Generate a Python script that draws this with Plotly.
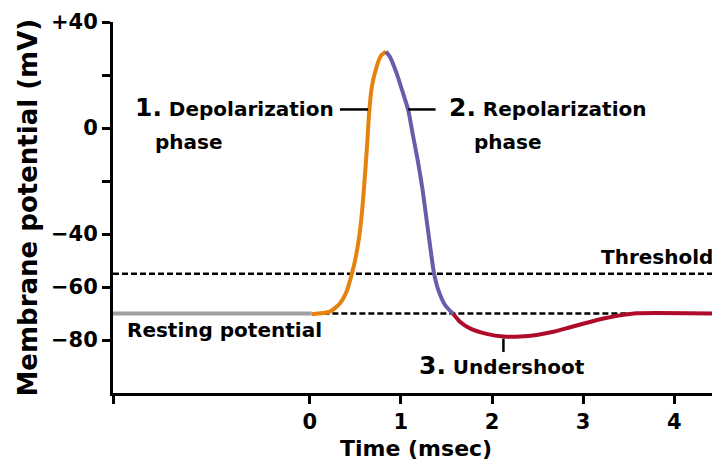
import plotly.graph_objects as go

# ---- data ----
resting_t = [-2.16, 0.02]
resting_v = [-70, -70]

depol_t = [0.02, 0.22, 0.330, 0.403, 0.458, 0.505, 0.542, 0.575, 0.604, 0.630, 0.652, 0.681, 0.733, 0.780, 0.835]
depol_v = [-70.3, -69.3, -66.2, -61.8, -55.5, -48.6, -41.0, -30.9, -18.4, -5.8, 6.2, 15.6, 23.1, 27.2, 28.8]

repol_t = [0.835, 0.879, 0.953, 1.019, 1.080, 1.135, 1.190, 1.238, 1.282, 1.326, 1.363, 1.410, 1.484, 1.575]
repol_v = [28.8, 26.9, 20.6, 13.6, 6.8, -3.3, -13.3, -23.4, -34.7, -46.0, -54.8, -61.1, -66.8, -70.2]

under_t = [1.575, 1.648, 1.758, 1.941, 2.125, 2.308, 2.491, 2.674, 2.857, 3.040, 3.223, 3.407, 3.590, 4.48]
under_v = [-70.2, -73.1, -75.6, -77.7, -78.7, -78.7, -78.1, -76.9, -75.2, -73.5, -71.9, -70.7, -69.9, -70]

threshold_mv = -55
resting_mv = -70

x_range = [-2.16, 4.48]
y_range = [-100, 40]
x_tickvals = [-2.16, 0, 1, 2, 3, 4]
x_ticktext = ["", "0", "1", "2", "3", "4"]
y_tickvals = [40, 20, 0, -20, -40, -60, -80]
y_ticktext = ["+40", "", "0", "", "\u221240", "\u221260", "\u221280"]

FONT = "DejaVu Sans"
GRAY = "#a0a0a0"
ORANGE = "#e6820e"
PURPLE = "#6b5baa"
RED = "#b00a2a"

fig = go.Figure()

# dotted reference lines
fig.add_trace(go.Scatter(x=x_range, y=[threshold_mv, threshold_mv], mode="lines",
                         line=dict(color="black", width=2.5, dash="6px,3px"),
                         hoverinfo="skip", showlegend=False))
fig.add_trace(go.Scatter(x=[0.05, x_range[1]], y=[resting_mv, resting_mv], mode="lines",
                         line=dict(color="black", width=2.5, dash="6px,3px"),
                         hoverinfo="skip", showlegend=False))

for t, v, c in [(resting_t, resting_v, GRAY), (depol_t, depol_v, ORANGE),
                (repol_t, repol_v, PURPLE), (under_t, under_v, RED)]:
    fig.add_trace(go.Scatter(x=t, y=v, mode="lines",
                             line=dict(color=c, width=4, shape="spline", smoothing=0.6),
                             showlegend=False))

# undershoot marker at min of the undershoot
imin = under_v.index(min(under_v))
ut = under_t[imin]
fig.add_shape(type="line", x0=ut, x1=ut, y0=min(under_v) - 0.8, y1=-84.5,
              line=dict(color="black", width=2.5))
# leader lines
fig.add_shape(type="line", x0=0.33, x1=0.64, y0=7, y1=7, line=dict(color="black", width=2.5))
fig.add_shape(type="line", x0=1.08, x1=1.38, y0=7, y1=7, line=dict(color="black", width=2.5))

tf = dict(family=FONT, size=20, color="black", weight="bold")
big = "<span style='font-size:25px'>%s</span>"
ann = [
    dict(x=-1.945, y=7.8, text=big % "1." + " Depolarization", xanchor="left"),
    dict(x=-1.725, y=-5.3, text="phase", xanchor="left"),
    dict(x=1.505, y=7.8, text=big % "2." + " Repolarization", xanchor="left"),
    dict(x=1.78, y=-5.3, text="phase", xanchor="left"),
    dict(x=4.45, y=-48.7, text="Threshold", xanchor="right"),
    dict(x=-2.03, y=-76.2, text="Resting potential", xanchor="left"),
    dict(x=1.176, y=-89.8, text=big % "3." + " Undershoot", xanchor="left"),
]
for a in ann:
    fig.add_annotation(xref="x", yref="y", showarrow=False, yanchor="middle",
                       font=tf, **a)

# axis titles
fig.add_annotation(xref="paper", yref="paper", x=0.5, y=0, yshift=-55, showarrow=False,
                   text="Time (msec)", xanchor="center", yanchor="middle",
                   font=dict(family=FONT, size=22, color="black", weight="bold"))
fig.add_annotation(xref="paper", yref="paper", x=0, y=0.5, xshift=-86, showarrow=False,
                   text="Membrane potential (mV)", textangle=-90,
                   xanchor="center", yanchor="middle",
                   font=dict(family=FONT, size=26, color="black", weight="bold"))

axis_common = dict(showgrid=False, zeroline=False, showline=True, linecolor="black",
                   linewidth=3, ticks="outside", ticklen=8, tickwidth=3, tickcolor="black",
                   automargin=False,
                   tickfont=dict(family=FONT, size=21, color="black", weight="bold"))

# page body has an 8px margin, so the figure starts at (8, 8)
fig.update_layout(
    width=712, height=455,
    margin=dict(l=105, r=2, t=14, b=70),
    paper_bgcolor="white", plot_bgcolor="white",
    xaxis=dict(range=x_range, tickvals=x_tickvals, ticktext=x_ticktext, **axis_common),
    yaxis=dict(range=y_range, tickvals=y_tickvals, ticktext=y_ticktext, **axis_common),
)

fig.write_html("out.html")
